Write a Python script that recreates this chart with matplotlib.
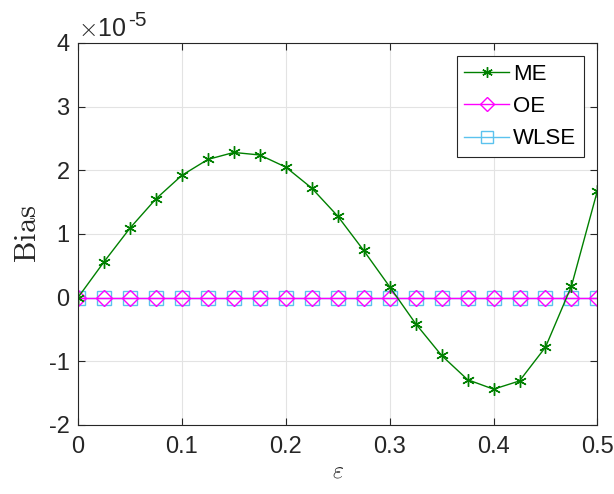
import numpy as np
import matplotlib.pyplot as plt

plt.rcParams["font.family"] = ["Liberation Sans", "DejaVu Sans"]
plt.rcParams["mathtext.fontset"] = "cm"
plt.rcParams["axes.unicode_minus"] = False

# ==============================
# DATA (bias in units of 1e-5)
# ==============================
eps = [0, 0.025, 0.05, 0.075, 0.1, 0.125, 0.15, 0.175, 0.2, 0.225, 0.25,
       0.275, 0.3, 0.325, 0.35, 0.375, 0.4, 0.425, 0.45, 0.475, 0.5]
me = [0, 0.56, 1.09, 1.55, 1.92, 2.17, 2.28, 2.24, 2.05, 1.72, 1.28,
      0.74, 0.17, -0.41, -0.91, -1.29, -1.44, -1.31, -0.78, 0.18, 1.68]
oe = [0.0] * len(eps)
wlse = [0.0] * len(eps)

# ==============================
# PLOT
# ==============================
fig = plt.figure(figsize=(6.14, 4.94), dpi=100)
ax = fig.add_axes([0.127, 0.14, 0.846, 0.773])

ax.plot(eps, wlse, color="#5BC2EE", marker="s", markersize=10,
        markerfacecolor="none", linewidth=1.0, label="WLSE")
ax.plot(eps, oe, color="magenta", marker="D", markersize=8,
        markerfacecolor="none", linewidth=1.0, label="OE")
ax.plot(eps, me, color="green", marker=(6, 2, 0), markersize=9,
        linewidth=1.0, label="ME")

ax.set_xlim(0, 0.5)
ax.set_ylim(-2, 4)
ax.set_xticks([0, 0.1, 0.2, 0.3, 0.4, 0.5])
ax.set_xticklabels(["0", "0.1", "0.2", "0.3", "0.4", "0.5"])
ax.set_yticks([-2, -1, 0, 1, 2, 3, 4])
ax.tick_params(labelsize=17, direction="in", length=5, color="#262626",
               labelcolor="#262626", top=True, right=True)
ax.tick_params(axis="x", pad=8)
ax.tick_params(axis="y", pad=6)
ax.grid(True, color="#e3e3e3", linewidth=0.8)
ax.set_axisbelow(True)
for s in ax.spines.values():
    s.set_color("#262626")
    s.set_linewidth(0.8)

ax.set_xlabel(r"$\varepsilon$", fontsize=17, color="#262626", labelpad=2)
ax.set_ylabel(r"$\mathrm{Bias}$", fontsize=22, color="#262626", labelpad=4)
ax.text(0.0, 1.005, r"$\times$10", transform=ax.transAxes,
        fontsize=18, color="#262626", va="bottom", ha="left")
ax.text(0.096, 1.035, "-5", transform=ax.transAxes,
        fontsize=15, color="#262626", va="bottom", ha="left")

h, l = ax.get_legend_handles_labels()
leg = ax.legend(h[::-1], l[::-1], loc="upper right", fontsize=16,
                fancybox=False, edgecolor="#262626", framealpha=1,
                handlelength=2.0, borderpad=0.35, labelspacing=0.5,
                handletextpad=0.2, borderaxespad=0.6, markerscale=0.85)
leg.get_frame().set_linewidth(0.8)

fig.savefig("out.png", dpi=100)
